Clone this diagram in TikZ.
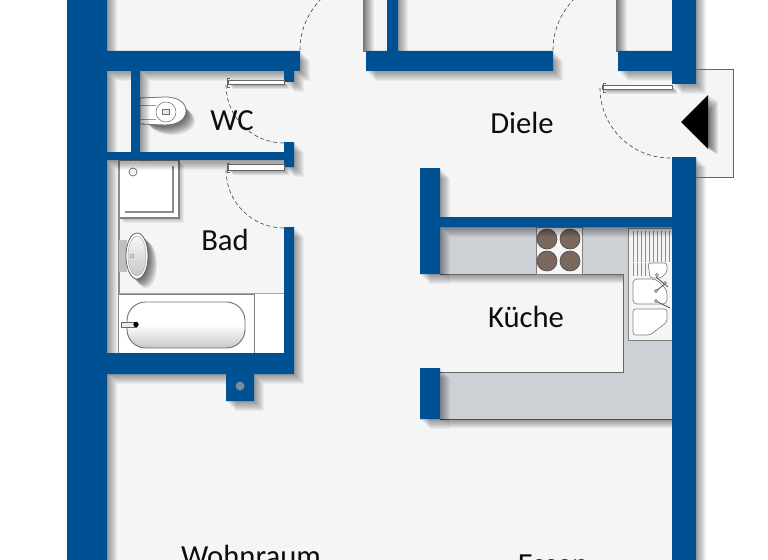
\documentclass[tikz,border=0pt]{standalone}
\usepackage{fontspec}
\setmainfont{Carlito}
\definecolor{wallblue}{RGB}{0,80,148}
\definecolor{floorgray}{RGB}{245,245,245}
\definecolor{countergray}{RGB}{205,208,213}
\definecolor{hobbrown}{RGB}{122,104,92}
\newcommand{\wallparts}{
    (67,-12) rectangle (107,572)
    (107,51) rectangle (300,71)
    (284,71) rectangle (294,82)
    (131,71) rectangle (140,152)
    (107,152) rectangle (284,160)
    (284,142) rectangle (294,167)
    (284,227) rectangle (294,353)
    (107,353) rectangle (294,374)
    (226,374) rectangle (254,401)
    (366,51) rectangle (553,71)
    (387,-12) rectangle (398,51)
    (618,51) rectangle (672,71)
    (672,-12) rectangle (696,84)
    (672,157) rectangle (696,572)
    (420,168) rectangle (440,274)
    (440,217) rectangle (672,227)
    (420,368) rectangle (440,419)
}
\newcommand{\counterpart}{
    (440,227) -- (672,227) -- (672,419) -- (440,419) -- (440,372) -- (623,372) -- (623,274) -- (440,274) -- cycle
}
\tikzset{
    wall/.style={fill=wallblue},
    swing/.style={dash pattern=on 3pt off 2pt,line width=0.45pt,black!75},
    leaf/.style={draw=black!60,fill=white,line width=0.5pt},
    fixture/.style={draw=black!50,fill=white,line width=0.6pt},
    ring/.style={draw=black!70,fill=hobbrown,line width=0.5pt},
    roomlabel/.style={font=\fontsize{23}{23}\selectfont,text=black!95,anchor=base,inner sep=0pt}
}
\begin{document}
\begin{tikzpicture}[x=0.75pt,y=-0.75pt]
    \useasboundingbox (0,0) rectangle (768,560);
    \clip (0,0) rectangle (768,560);
    \fill[white] (0,0) rectangle (768,560);
    \fill[floorgray] (100,-5) rectangle (680,565);
    \fill[floorgray] (680,69) rectangle (733,177);

    % kitchen counter
    \foreach \s in {1,...,9} \fill[black,opacity=.05,shift={(\s,\s)}] \counterpart;
    \fill[countergray] \counterpart;
    \draw[black!60,line width=0.7pt] (440,274) -- (623,274) -- (623,372) -- (440,372);
    \draw[black!70,line width=0.7pt] (440,419) -- (672,419);

    % hob
    \draw[fixture,fill=floorgray] (536,227) rectangle (582,274);
    \foreach \px/\py in {547/239,570/239,547/261,570/261}
        \draw[ring] (\px,\py) circle (10);

    % sink
    \draw[fixture,fill=floorgray,line width=0.5pt] (628,228) rectangle (672,340);
    \foreach \px in {633,637,...,669}
        \draw[black!45,line width=0.4pt] (\px,231) -- (\px,262);
    \foreach \px in {633,637,641,645}
        \draw[black!45,line width=0.4pt] (\px,263) -- (\px,276);
    \draw[fixture,rounded corners=2pt,line width=0.5pt] (648,263) -- (667,263) -- (667,272) -- (661,278) -- (650,278) -- cycle;
    \draw[fixture,rounded corners=3pt,line width=0.5pt] (633,279) -- (656,279) -- (667,290) -- (667,304) -- (633,304) -- cycle;
    \draw[fixture,rounded corners=2pt,line width=0.5pt] (633,309) -- (667,309) -- (667,322) -- (650,335) -- (633,335) -- cycle;
    \draw[black!70,line width=0.6pt] (656,277) -- (668,287) (656,291) -- (666,283) (656,301) -- (670,308);
    \foreach \px/\py in {657/275,665/283,656/291,656/301}
        \draw[black!70,fill=white,line width=0.4pt] (\px,\py) circle (1.5);

    % shower
    \foreach \s in {1,...,5} \fill[black,opacity=.05,shift={(\s,\s)}] (119,160) rectangle (179,218);
    \draw[fixture,line width=0.8pt] (119,160) rectangle (179,218);
    \draw[black!45,line width=0.8pt] (173,166) -- (173,212) -- (125,212);
    \draw[black!60,fill=floorgray,line width=0.5pt] (133,172) circle (4);
    \draw[black!45,line width=0.8pt] (119,160) -- (119,353);

    % basin
    \foreach \s in {1,...,9} \fill[black,opacity=.08,shift={(\s,\s)}] (137,256) ellipse (11 and 23);
    \fill[black!25] (119,240) rectangle (127,272);
    \draw[black!60,fill=white,line width=0.6pt] (137,256) ellipse (11 and 23);
    \draw[black!30,top color=black!3,bottom color=black!22,line width=0.4pt] (137,256) ellipse (9 and 20);
    \draw[black!50,fill=black!15,line width=0.3pt] (132,256) circle (2);

    % bath
    \fill[white] (119,294) rectangle (284,353);
    \draw[black!35,line width=0.6pt] (119,293) -- (284,293);
    \draw[black!50,line width=0.7pt] (119,294) -- (254,294) -- (254,353);
    \draw[black!55,top color=white,bottom color=black!22,middle color=white,rounded corners=14pt,line width=0.7pt] (127,302) rectangle (245,348);
    \draw[black!60,fill=black!8,line width=0.4pt] (121,322) rectangle (136,327);
    \fill[black] (136,324.5) circle (2.7);

    % toilet
    \foreach \s in {1,...,9} \fill[black,opacity=.08,shift={(\s,\s)}] (163,112) ellipse (23 and 14);
    \draw[black!55,fill=white,line width=0.6pt] (140,98) -- (165,97) .. controls (180,97) and (186,104) .. (186,111) .. controls (186,119) and (178,125) .. (165,125) -- (140,124) -- cycle;
    \draw[black!55,line width=0.4pt] (166,112) circle (10);
    \draw[black!55,fill=black!10,line width=0.4pt] (162.5,109.5) rectangle (169.5,114.5);
    \draw[black!40,line width=0.4pt] (140,105) -- (156,105) (140,119) -- (156,119);

    % cupboard edges at the top
    \shade[left color=black!50,right color=floorgray] (364,0) rectangle (374,51);
    \shade[left color=black!50,right color=floorgray] (617,0) rectangle (627,51);
    \draw[black!55,line width=0.6pt] (363,-5) -- (363,51) -- (366,51);
    \draw[black!55,line width=0.6pt] (616,-5) -- (616,51) -- (618,51);

    % door leaves with their shadows
    \foreach \s in {1,...,5} \fill[black,opacity=.08,shift={(\s,\s)}] (228,80) rectangle (284,84) (228,164) rectangle (284,170) (602,85) rectangle (672,89);

    % shadows and walls
    \foreach \s in {1,...,10} \fill[black,opacity=.045,shift={(\s,\s)}] \wallparts;
    \fill[wall] \wallparts;
    \fill[black!40,opacity=.8] (240,386) circle (4.5);

    % door leaves
    \draw[leaf] (228,80) rectangle (284,84);
    \draw[leaf] (228,164) rectangle (284,170);
    \draw[leaf] (602,85) rectangle (672,89);
    \foreach \px/\py in {230/78,230/163,606/83}
        \draw[black!60,line width=0.5pt] (\px,\py) -- ++(-3,0) -- ++(0,9) -- ++(3,0);

    % door swings
    \draw[swing] (300,50) arc (180:224:72);
    \draw[swing] (553,50) arc (180:224:72);
    \draw[swing] (226,85) arc (180:90:58);
    \draw[swing] (226,170) arc (180:90:58);
    \draw[swing] (600,88) arc (180:90:70);

    % entrance
    \draw[black!60,line width=0.6pt] (696,69) -- (733,69) -- (733,177) -- (696,177);
    \foreach \s in {1,...,10} \fill[black,opacity=.07,shift={(\s,\s*0.6)}] (681,122) -- (708,95) -- (708,149) -- cycle;
    \fill[black] (681,122) -- (708,95) -- (708,149) -- cycle;

    % room names
    \node[roomlabel] (wc) at (232,131) {WC};
    \node[roomlabel] (diele) at (522,133) {Diele};
    \node[roomlabel] (bad) at (225,250) {Bad};
    \node[roomlabel] (kueche) at (526,327) {Küche};
    \node[roomlabel] (wohnraum) at (251,566) {Wohnraum};
    \node[roomlabel] (essen) at (553,574) {Essen};
\end{tikzpicture}
\end{document}
